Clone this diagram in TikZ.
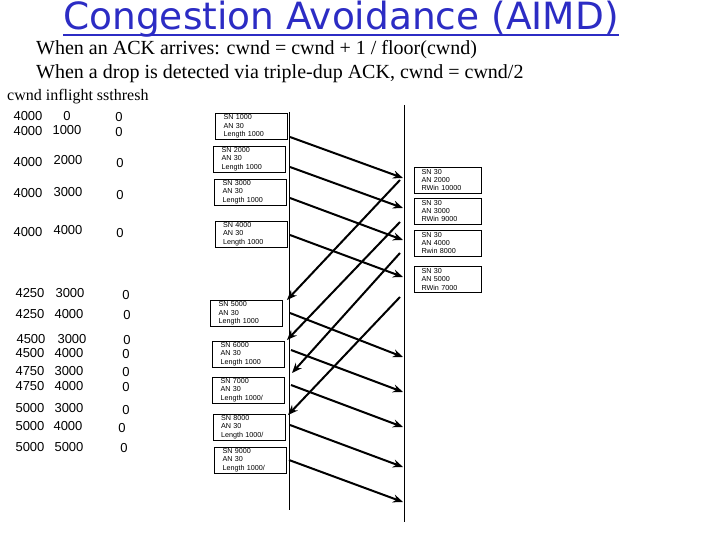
\documentclass[tikz,border=0pt]{standalone}
\usepackage{fontspec}
\setmainfont{Liberation Serif}
\newfontfamily\numfont{Liberation Sans}
\newfontfamily\titlefont{DejaVu Sans}
\usepackage{xcolor}
\usepackage{tikz}
\usetikzlibrary{arrows.meta,positioning}
\definecolor{titleblue}{RGB}{44,44,196}
\newcommand{\boxfont}{\numfont\fontsize{7.2}{8.4}\selectfont}

\begin{document}
\begin{tikzpicture}[x=1pt, y=-1pt,
  seg/.style={draw, line width=0.7pt, minimum width=72pt, minimum height=26pt,
    text width=56pt, align=left, inner sep=0pt, font=\boxfont},
  ackbox/.style={seg, minimum width=67pt, text width=52pt},
  msg/.style={line width=2pt, -{Stealth[length=10pt,width=8pt]}},
  num/.style={inner sep=0pt, font=\numfont\fontsize{13}{13}\selectfont}]
\useasboundingbox (0,0) rectangle (720,540);

% title and rules
\node[inner sep=0pt, anchor=base, text=titleblue, font=\titlefont\fontsize{37.5}{37.5}\selectfont]
  (title) at (341,30) {Congestion Avoidance (AIMD)};
\draw[titleblue, line width=1.5pt] ([yshift=-5pt]title.base west) -- ([yshift=-5pt]title.base east);
\node[inner sep=0pt, anchor=base west, font=\fontsize{20}{20}\selectfont]
  (rule1) at (36,55) {When an ACK arrives: cwnd = cwnd + 1 / floor(cwnd)};
\node[inner sep=0pt, anchor=base west, font=\fontsize{20}{20}\selectfont]
  (rule2) at (36,79) {When a drop is detected via triple-dup ACK, cwnd = cwnd/2};

% table
\node[inner sep=0pt, anchor=west, font=\fontsize{16}{16}\selectfont]
  (head) at (7,97) {cwnd inflight ssthresh};
\node[num] (c1) at (28,116) {4000}; \node[num] (f1) at (67,116) {0}; \node[num] (t1) at (119,117) {0};
\node[num] (c2) at (28,131) {4000}; \node[num] (f2) at (67,130) {1000}; \node[num] (t2) at (119,132) {0};
\node[num] (c3) at (28,162) {4000}; \node[num] (f3) at (68,160) {2000}; \node[num] (t3) at (120,163) {0};
\node[num] (c4) at (28,193) {4000}; \node[num] (f4) at (68,192) {3000}; \node[num] (t4) at (120,195) {0};
\node[num] (c5) at (28,232) {4000}; \node[num] (f5) at (68,230) {4000}; \node[num] (t5) at (120,233) {0};
\node[num] (c6) at (30,293) {4250}; \node[num] (f6) at (70,293) {3000}; \node[num] (t6) at (126,295) {0};
\node[num] (c7) at (30,314) {4250}; \node[num] (f7) at (69,314) {4000}; \node[num] (t7) at (127,315) {0};
\node[num] (c8) at (31,339) {4500}; \node[num] (f8) at (72,339) {3000}; \node[num] (t8) at (127,340) {0};
\node[num] (c9) at (30,353) {4500}; \node[num] (f9) at (69,353) {4000}; \node[num] (t9) at (126,354) {0};
\node[num] (c10) at (30,371) {4750}; \node[num] (f10) at (69,371) {3000}; \node[num] (t10) at (126,372) {0};
\node[num] (c11) at (30,386) {4750}; \node[num] (f11) at (69,386) {4000}; \node[num] (t11) at (126,387) {0};
\node[num] (c12) at (30,408) {5000}; \node[num] (f12) at (69,408) {3000}; \node[num] (t12) at (126,410) {0};
\node[num] (c13) at (30,426) {5000}; \node[num] (f13) at (68,426) {4000}; \node[num] (t13) at (122,428) {0};
\node[num] (c14) at (30,447) {5000}; \node[num] (f14) at (69,447) {5000}; \node[num] (t14) at (124,448) {0};

% timelines
\coordinate (sendtop) at (289,112); \coordinate (sendbot) at (289,510);
\coordinate (recvtop) at (404,105); \coordinate (recvbot) at (404,522);
\draw[line width=0.9pt] (sendtop) -- (sendbot);
\draw[line width=0.9pt] (recvtop) -- (recvbot);

% data segments
\node[seg] (sn1) at (251.5,126.5) {SN 1000\\AN 30\\Length 1000};
\node[seg] (sn2) at (249.5,159) {SN 2000\\AN 30\\Length 1000};
\node[seg] (sn3) at (250.5,192) {SN 3000\\AN 30\\Length 1000};
\node[seg] (sn4) at (251,234) {SN 4000\\AN 30\\Length 1000};
\node[seg] (sn5) at (246.5,313.5) {SN 5000\\AN 30\\Length 1000};
\node[seg] (sn6) at (248.5,354) {SN 6000\\AN 30\\Length 1000};
\node[seg] (sn7) at (248.5,390) {SN 7000\\AN 30\\Length 1000/};
\node[seg] (sn8) at (249,427) {SN 8000\\AN 30\\Length 1000/};
\node[seg] (sn9) at (250.5,460) {SN 9000\\AN 30\\Length 1000/};

% acks
\node[ackbox] (an1) at (447.5,180) {SN 30\\AN 2000\\RWin 10000};
\node[ackbox] (an2) at (447.5,211) {SN 30\\AN 3000\\RWin 9000};
\node[ackbox] (an3) at (447.5,243) {SN 30\\AN 4000\\Rwin 8000};
\node[ackbox] (an4) at (447.5,279.5) {SN 30\\AN 5000\\RWin 7000};

% arrows
\coordinate (d1s) at (290,137); \coordinate (d1e) at (403,178);
\coordinate (d2s) at (290,167); \coordinate (d2e) at (403,208);
\coordinate (d3s) at (290,198); \coordinate (d3e) at (403,240);
\coordinate (d4s) at (290,235); \coordinate (d4e) at (403,277);
\coordinate (d5s) at (290,313); \coordinate (d5e) at (403,357);
\coordinate (d6s) at (291,350); \coordinate (d6e) at (403,392);
\coordinate (d7s) at (291,385); \coordinate (d7e) at (403,427);
\coordinate (d8s) at (290,425); \coordinate (d8e) at (403,467);
\coordinate (d9s) at (289,460); \coordinate (d9e) at (403,502);
\draw[msg] (d1s) -- (d1e);
\draw[msg] (d2s) -- (d2e);
\draw[msg] (d3s) -- (d3e);
\draw[msg] (d4s) -- (d4e);
\draw[msg] (d5s) -- (d5e);
\draw[msg] (d6s) -- (d6e);
\draw[msg] (d7s) -- (d7e);
\draw[msg] (d8s) -- (d8e);
\draw[msg] (d9s) -- (d9e);
\coordinate (k1s) at (400,180); \coordinate (k1e) at (287,300);
\coordinate (k2s) at (400,222); \coordinate (k2e) at (287,340);
\coordinate (k3s) at (400,253); \coordinate (k3e) at (292,373);
\coordinate (k4s) at (400,297); \coordinate (k4e) at (288,415);
\draw[msg] (k1s) -- (k1e);
\draw[msg] (k2s) -- (k2e);
\draw[msg] (k3s) -- (k3e);
\draw[msg] (k4s) -- (k4e);
\end{tikzpicture}
\end{document}
